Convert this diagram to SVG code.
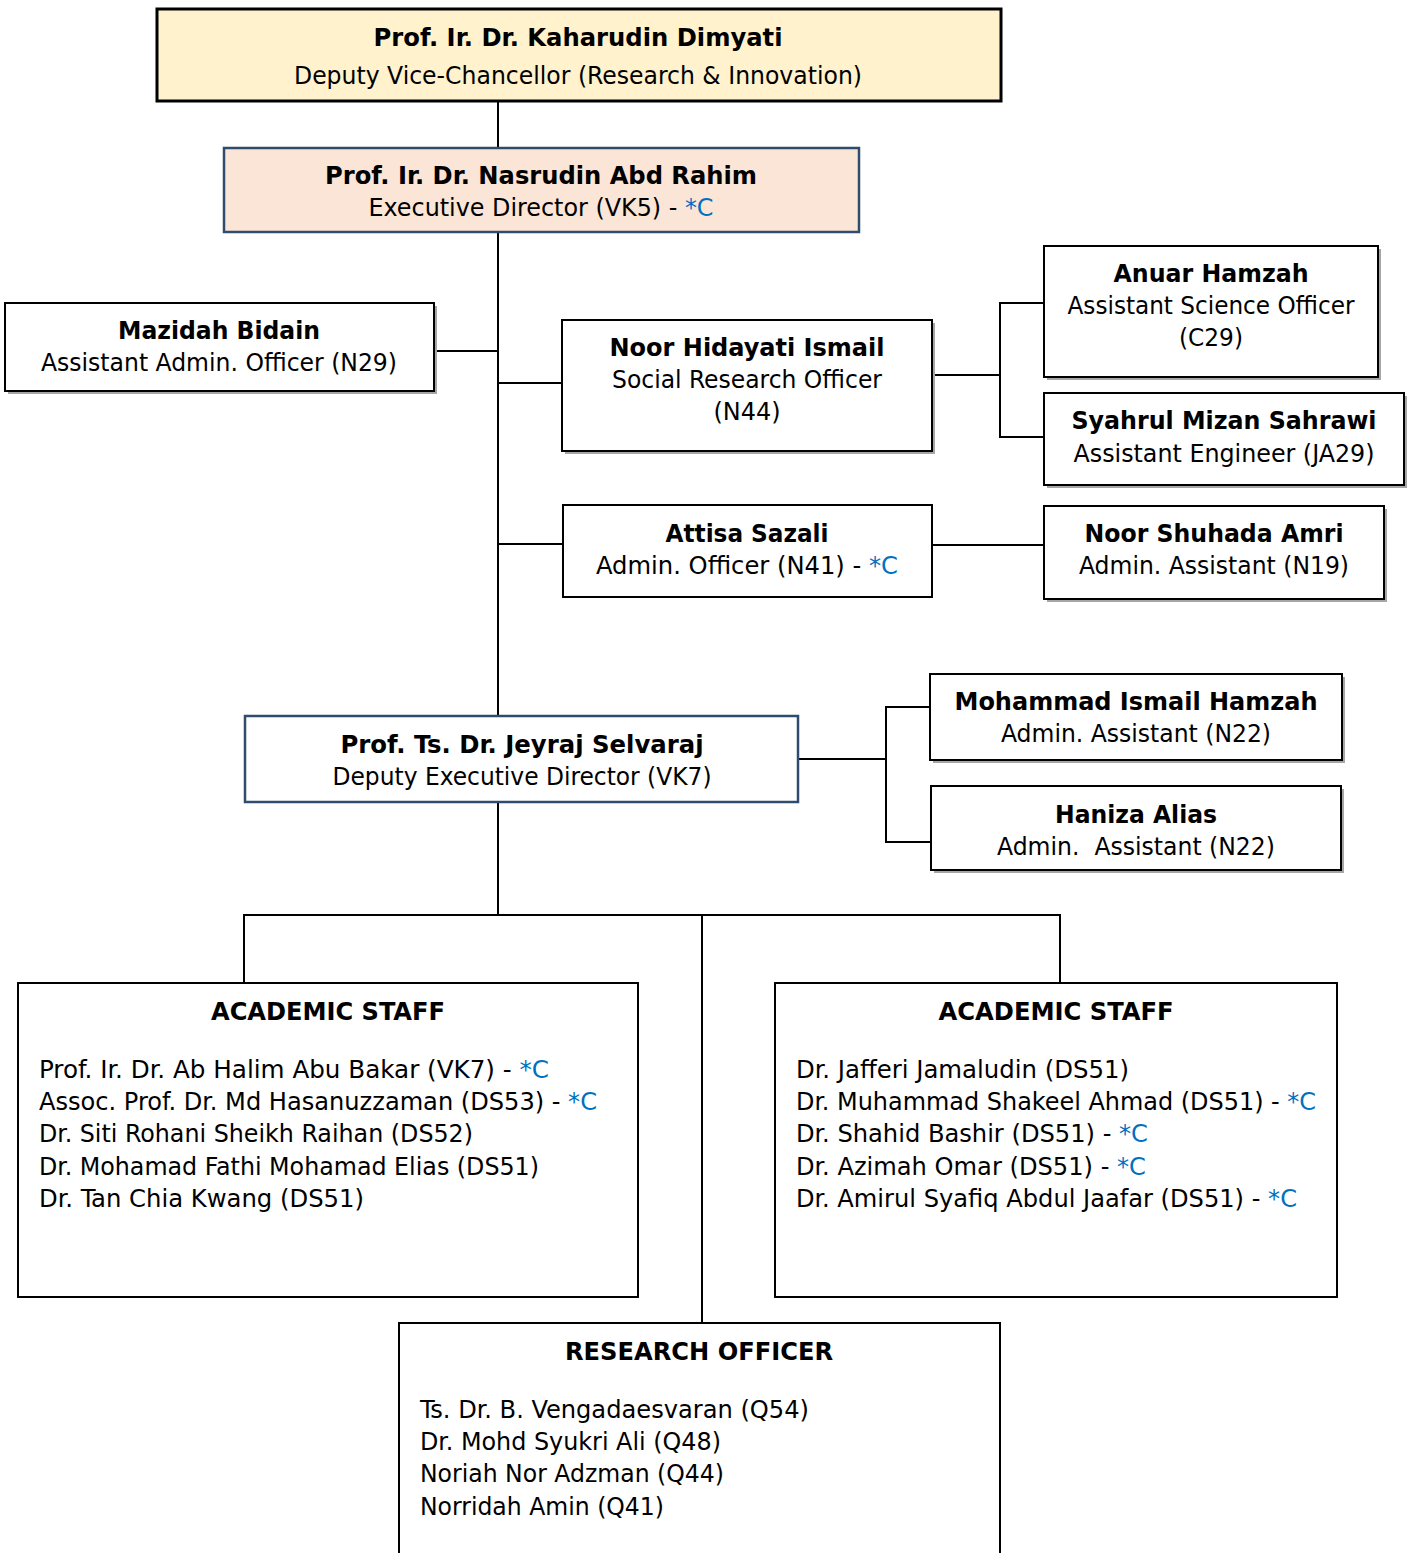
<svg xmlns="http://www.w3.org/2000/svg" width="1411" height="1553" viewBox="0 0 1411 1553">
<style>
text{font-family:"DejaVu Sans Condensed","DejaVu Sans",sans-serif;font-size:24px;fill:#000;}
.c{text-anchor:middle;}
.b{font-weight:bold;}
.blue{fill:#0070C0;}
.box{fill:#fff;stroke:#000;stroke-width:2;}
.sh{fill:#A6A6A6;}
.ln{stroke:#000;stroke-width:2;fill:none;}
</style>
<rect width="1411" height="1553" fill="#fff"/>
<g id="connectors">
<path class="ln" d="M498 101V148M498 232V716"/>
<path class="ln" d="M434 351H498M498 383H562M498 544H563"/>
<path class="ln" d="M932 375H1000M1044 303H1000V437H1044"/>
<path class="ln" d="M932 545H1044"/>
<path class="ln" d="M798 759H886M930 707H886V842H931"/>
<path class="ln" d="M498 802V915M244 983V915H1060V983M702 915V1323"/>
</g>
<g id="n-dvc">
<rect x="157" y="9" width="844" height="92" fill="#FFF2CC" stroke="#000" stroke-width="3"/>
<text class="c b" x="578" y="46" textLength="409" lengthAdjust="spacingAndGlyphs">Prof. Ir. Dr. Kaharudin Dimyati</text>
<text class="c" x="578" y="84" textLength="568" lengthAdjust="spacingAndGlyphs">Deputy Vice-Chancellor (Research &amp; Innovation)</text>
</g>
<g id="n-ed">
<rect x="224" y="148" width="635" height="84" fill="#FBE5D6" stroke="#2F4B6E" stroke-width="2.5"/>
<text class="c b" x="541" y="184" textLength="432" lengthAdjust="spacingAndGlyphs">Prof. Ir. Dr. Nasrudin Abd Rahim</text>
<text class="c" x="541" y="216" textLength="345" lengthAdjust="spacingAndGlyphs">Executive Director (VK5) - <tspan class="blue">*C</tspan></text>
</g>
<g id="n-mazidah">
<rect class="sh" x="8" y="306" width="429" height="88"/>
<rect class="box" x="5" y="303" width="429" height="88"/>
<text class="c b" x="219" y="339" textLength="202" lengthAdjust="spacingAndGlyphs">Mazidah Bidain</text>
<text class="c" x="219" y="371" textLength="356" lengthAdjust="spacingAndGlyphs">Assistant Admin. Officer (N29)</text>
</g>
<g id="n-noorh">
<rect class="sh" x="565" y="323" width="370" height="131"/>
<rect class="box" x="562" y="320" width="370" height="131"/>
<text class="c b" x="747" y="356" textLength="275" lengthAdjust="spacingAndGlyphs">Noor Hidayati Ismail</text>
<text class="c" x="747" y="388" textLength="270" lengthAdjust="spacingAndGlyphs">Social Research Officer</text>
<text class="c" x="747" y="420" textLength="67" lengthAdjust="spacingAndGlyphs">(N44)</text>
</g>
<g id="n-anuar">
<rect class="sh" x="1047" y="249" width="334" height="131"/>
<rect class="box" x="1044" y="246" width="334" height="131"/>
<text class="c b" x="1211" y="282" textLength="195" lengthAdjust="spacingAndGlyphs">Anuar Hamzah</text>
<text class="c" x="1211" y="314" textLength="287" lengthAdjust="spacingAndGlyphs">Assistant Science Officer</text>
<text class="c" x="1211" y="346" textLength="64" lengthAdjust="spacingAndGlyphs">(C29)</text>
</g>
<g id="n-syahrul">
<rect class="sh" x="1047" y="396" width="360" height="92"/>
<rect class="box" x="1044" y="393" width="360" height="92"/>
<text class="c b" x="1224" y="429" textLength="305" lengthAdjust="spacingAndGlyphs">Syahrul Mizan Sahrawi</text>
<text class="c" x="1224" y="462" textLength="301" lengthAdjust="spacingAndGlyphs">Assistant Engineer (JA29)</text>
</g>
<g id="n-attisa">
<rect class="box" x="563" y="505" width="369" height="92"/>
<text class="c b" x="747" y="542" textLength="163" lengthAdjust="spacingAndGlyphs">Attisa Sazali</text>
<text class="c" x="747" y="574" textLength="302" lengthAdjust="spacingAndGlyphs">Admin. Officer (N41) - <tspan class="blue">*C</tspan></text>
</g>
<g id="n-noors">
<rect class="sh" x="1047" y="509" width="340" height="93"/>
<rect class="box" x="1044" y="506" width="340" height="93"/>
<text class="c b" x="1214" y="542" textLength="259" lengthAdjust="spacingAndGlyphs">Noor Shuhada Amri</text>
<text class="c" x="1214" y="574" textLength="270" lengthAdjust="spacingAndGlyphs">Admin. Assistant (N19)</text>
</g>
<g id="n-jeyraj">
<rect x="245" y="716" width="553" height="86" fill="#fff" stroke="#2F4B6E" stroke-width="2.5"/>
<text class="c b" x="522" y="753" textLength="363" lengthAdjust="spacingAndGlyphs">Prof. Ts. Dr. Jeyraj Selvaraj</text>
<text class="c" x="522" y="785" textLength="379" lengthAdjust="spacingAndGlyphs">Deputy Executive Director (VK7)</text>
</g>
<g id="n-mohammad">
<rect class="sh" x="933" y="677" width="412" height="86"/>
<rect class="box" x="930" y="674" width="412" height="86"/>
<text class="c b" x="1136" y="710" textLength="363" lengthAdjust="spacingAndGlyphs">Mohammad Ismail Hamzah</text>
<text class="c" x="1136" y="742" textLength="270" lengthAdjust="spacingAndGlyphs">Admin. Assistant (N22)</text>
</g>
<g id="n-haniza">
<rect class="sh" x="934" y="789" width="410" height="84"/>
<rect class="box" x="931" y="786" width="410" height="84"/>
<text class="c b" x="1136" y="823" textLength="162" lengthAdjust="spacingAndGlyphs">Haniza Alias</text>
<text class="c" x="1136" y="855" textLength="278" lengthAdjust="spacingAndGlyphs" xml:space="preserve">Admin.  Assistant (N22)</text>
</g>
<g id="n-academic-left">
<rect class="box" x="18" y="983" width="620" height="314"/>
<text class="c b" x="328" y="1020" textLength="234" lengthAdjust="spacingAndGlyphs">ACADEMIC STAFF</text>
<text x="39" y="1078" textLength="510" lengthAdjust="spacingAndGlyphs">Prof. Ir. Dr. Ab Halim Abu Bakar (VK7) - <tspan class="blue">*C</tspan></text>
<text x="39" y="1110" textLength="558" lengthAdjust="spacingAndGlyphs">Assoc. Prof. Dr. Md Hasanuzzaman (DS53) - <tspan class="blue">*C</tspan></text>
<text x="39" y="1142" textLength="434" lengthAdjust="spacingAndGlyphs">Dr. Siti Rohani Sheikh Raihan (DS52)</text>
<text x="39" y="1175" textLength="500" lengthAdjust="spacingAndGlyphs">Dr. Mohamad Fathi Mohamad Elias (DS51)</text>
<text x="39" y="1207" textLength="325" lengthAdjust="spacingAndGlyphs">Dr. Tan Chia Kwang (DS51)</text>
</g>
<g id="n-academic-right">
<rect class="box" x="775" y="983" width="562" height="314"/>
<text class="c b" x="1056" y="1020" textLength="235" lengthAdjust="spacingAndGlyphs">ACADEMIC STAFF</text>
<text x="796" y="1078" textLength="333" lengthAdjust="spacingAndGlyphs">Dr. Jafferi Jamaludin (DS51)</text>
<text x="796" y="1110" textLength="520" lengthAdjust="spacingAndGlyphs">Dr. Muhammad Shakeel Ahmad (DS51) - <tspan class="blue">*C</tspan></text>
<text x="796" y="1142" textLength="352" lengthAdjust="spacingAndGlyphs">Dr. Shahid Bashir (DS51) - <tspan class="blue">*C</tspan></text>
<text x="796" y="1175" textLength="350" lengthAdjust="spacingAndGlyphs">Dr. Azimah Omar (DS51) - <tspan class="blue">*C</tspan></text>
<text x="796" y="1207" textLength="501" lengthAdjust="spacingAndGlyphs">Dr. Amirul Syafiq Abdul Jaafar (DS51) - <tspan class="blue">*C</tspan></text>
</g>
<g id="n-research">
<rect class="box" x="399" y="1323" width="601" height="240"/>
<text class="c b" x="699" y="1360" textLength="268" lengthAdjust="spacingAndGlyphs">RESEARCH OFFICER</text>
<text x="420" y="1418" textLength="389" lengthAdjust="spacingAndGlyphs">Ts. Dr. B. Vengadaesvaran (Q54)</text>
<text x="420" y="1450" textLength="301" lengthAdjust="spacingAndGlyphs">Dr. Mohd Syukri Ali (Q48)</text>
<text x="420" y="1482" textLength="304" lengthAdjust="spacingAndGlyphs">Noriah Nor Adzman (Q44)</text>
<text x="420" y="1515" textLength="244" lengthAdjust="spacingAndGlyphs">Norridah Amin (Q41)</text>
</g>
</svg>
